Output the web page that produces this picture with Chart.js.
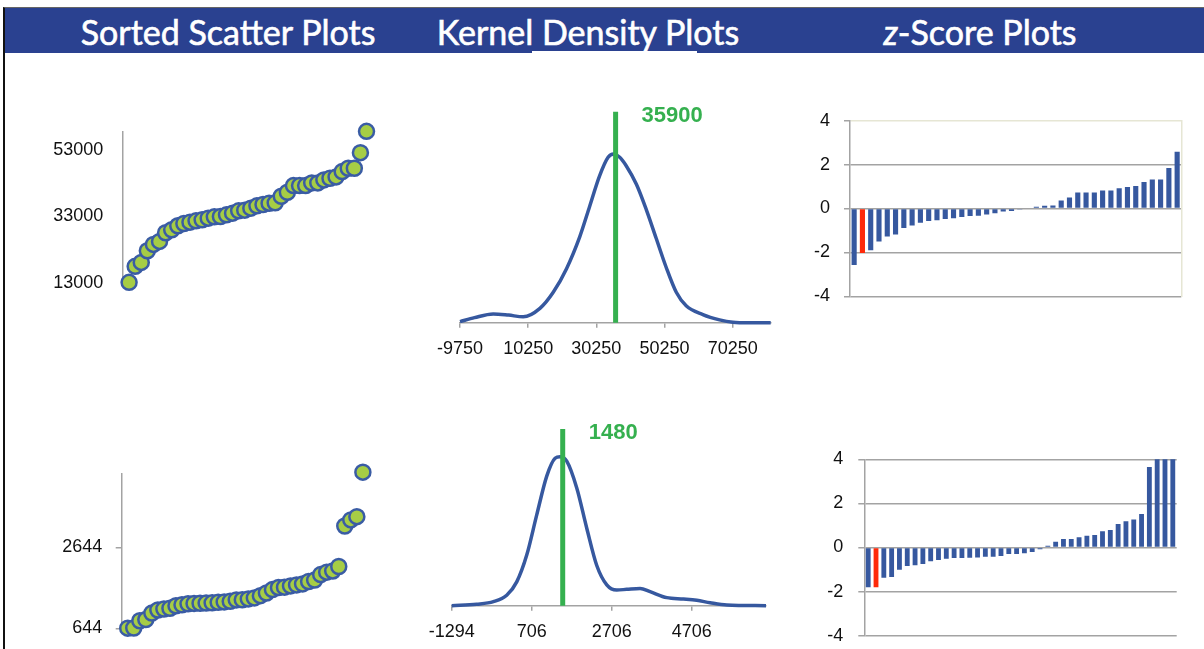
<!DOCTYPE html>
<html>
<head>
<meta charset="utf-8">
<script src="https://cdn.jsdelivr.net/npm/chart.js@4.4.0/dist/chart.umd.min.js"></script>
<style>
  html, body { margin: 0; padding: 0; background: #fff; }
  body { width: 1204px; height: 649px; position: relative; overflow: hidden; font-family: "Liberation Sans", sans-serif; }
  #frame { position: absolute; left: 3px; top: 7px; width: 1201px; height: 642px; border-left: 2px solid #111; border-top: 1px solid #666; }
  #band { position: absolute; left: 5px; top: 8px; width: 1199px; height: 45px; background: #2a4190; }
  #band span { position: absolute; top: 50%; transform: translate(-50%, -50%); color: #fff; font-family: Lato, sans-serif; font-size: 34px; -webkit-text-stroke: 0.6px #fff; white-space: nowrap; }
  #gap { position: absolute; left: 532px; top: 51px; width: 165px; height: 2px; background: #fff; }
  canvas { position: absolute; }
</style>
</head>
<body>
<div id="frame"></div>
<div id="band">
  <span style="left:223px">Sorted Scatter Plots</span>
  <span style="left:583px">Kernel Density Plots</span>
  <span style="left:975px"><i>z</i>-Score Plots</span>
</div>
<div id="gap"></div>

<canvas id="scatterTop" width="380" height="240" style="left:20px;top:90px"></canvas>
<canvas id="scatterBot" width="380" height="240" style="left:20px;top:430px"></canvas>
<canvas id="kdeTop" width="390" height="280" style="left:410px;top:90px"></canvas>
<canvas id="kdeBot" width="400" height="239" style="left:400px;top:410px"></canvas>
<canvas id="zTop" width="414" height="250" style="left:790px;top:80px"></canvas>
<canvas id="zBot" width="404" height="250" style="left:800px;top:420px"></canvas>

<script>
// sorted values
const topSorted = [13200, 18000, 19200, 22700, 24600, 25500, 28100, 29000, 30200, 30900,
  31300, 31700, 32000, 32500, 32900, 33000, 33500, 34000, 34700, 34900,
  35500, 36200, 36600, 37000, 37100, 39100, 40300, 42300, 42300, 42300,
  43100, 43100, 44000, 44500, 44900, 46500, 47500, 47500, 52200, 58600];
const botSorted = [648, 652, 830, 860, 1020, 1095, 1120, 1140, 1200, 1225,
  1248, 1258, 1262, 1266, 1272, 1285, 1295, 1310, 1345, 1350,
  1370, 1395, 1450, 1515, 1600, 1650, 1660, 1690, 1715, 1740,
  1800, 1835, 1970, 2030, 2060, 2170, 3170, 3320, 3400, 4500];
const topScatterTicks = [13000, 33000, 53000];
const botScatterTicks = [644, 2644];

// kernel density curves (x value, relative height)
const kdeTopX = [-9750, -5500, 0, 4500, 8800, 13700, 17600, 21500, 25400, 28300, 31200, 33700, 35300,
  37100, 39000, 42000, 44900, 47800, 50700, 53700, 56600, 61500, 66400, 70300, 75000, 81400];
const kdeTopY = [0.006, 0.03, 0.052, 0.045, 0.035, 0.085, 0.18, 0.32, 0.51, 0.69, 0.87, 0.98, 1.0,
  0.98, 0.93, 0.82, 0.67, 0.5, 0.33, 0.18, 0.1, 0.048, 0.017, 0.003, 0, 0];
const kdeBotX = [-1294, -669, -252, 81, 331, 581, 831, 1081, 1289, 1414, 1581, 1831, 2081,
  2331, 2581, 2831, 3081, 3414, 3664, 4081, 4498, 4831, 5164, 5581, 6560];
const kdeBotY = [0, 0.01, 0.027, 0.07, 0.16, 0.34, 0.61, 0.87, 0.99, 1.0, 0.97, 0.79, 0.52,
  0.27, 0.14, 0.105, 0.11, 0.116, 0.094, 0.054, 0.045, 0.036, 0.02, 0.005, 0];
const kdeTopTicks = [-9750, 10250, 30250, 50250, 70250];
const kdeBotTicks = [-1294, 706, 2706, 4706];
const topMean = 35900;
const botMean = 1480;

// z-scores
const topZ = [-2.57, -2.03, -1.9, -1.5, -1.28, -1.18, -0.89, -0.78, -0.65, -0.57,
  -0.53, -0.48, -0.44, -0.39, -0.34, -0.33, -0.27, -0.22, -0.14, -0.11,
  -0.05, 0.03, 0.08, 0.12, 0.14, 0.36, 0.5, 0.73, 0.73, 0.73,
  0.82, 0.82, 0.92, 0.98, 1.03, 1.21, 1.32, 1.32, 1.85, 2.58];
const botZ = [-1.8, -1.8, -1.37, -1.34, -1.01, -0.84, -0.8, -0.75, -0.62, -0.57,
  -0.51, -0.48, -0.48, -0.47, -0.45, -0.42, -0.42, -0.38, -0.3, -0.3,
  -0.26, -0.2, -0.08, 0.08, 0.26, 0.38, 0.39, 0.47, 0.53, 0.57,
  0.74, 0.79, 1.07, 1.19, 1.27, 1.52, 3.65, 4.1, 4.3, 6.5];
const highlight = 1; // the red bar

const blue = '#36589f';
const green = '#35b04f';
const axisGray = '#a3a3a3';
const tickFont = { family: 'Liberation Sans', size: 18 };
const plain = v => String(v); // no thousands separators

Chart.defaults.animation = false;
Chart.defaults.responsive = false;
Chart.defaults.plugins.legend.display = false;
Chart.defaults.plugins.tooltip.enabled = false;
Chart.defaults.color = '#111';

// green label next to the mean line
const meanLabel = {
  id: 'meanLabel',
  afterDatasetsDraw(chart, args, opts) {
    const { ctx, scales } = chart;
    const x = scales.x.getPixelForValue(opts.value);
    const y = scales.y.getPixelForValue(scales.y.max);
    ctx.save();
    ctx.fillStyle = green;
    ctx.font = 'bold 22px "Liberation Sans"';
    ctx.textBaseline = 'middle';
    ctx.fillText(String(opts.value), x + 26, y + 4);
    ctx.restore();
  }
};

function scatterChart(id, values, ticks, yMin, yMax, pad, tickLen, labelPad) {
  return new Chart(document.getElementById(id), {
    type: 'scatter',
    data: {
      datasets: [{
        data: values.map((v, i) => ({ x: i + 1, y: v })),
        pointRadius: 7.5,
        pointBorderWidth: 2.5,
        pointBackgroundColor: '#a6cd45',
        pointBorderColor: '#3a5ca4',
        clip: false
      }]
    },
    options: {
      layout: { padding: pad },
      scales: {
        x: { display: false, min: 0, max: 41 },
        y: {
          min: yMin, max: yMax,
          afterFit: s => { s.width = 80; },
          afterBuildTicks: s => { s.ticks = ticks.map(v => ({ value: v })); },
          grid: { drawOnChartArea: false, drawTicks: tickLen > 0, tickLength: tickLen, color: axisGray, lineWidth: 1.5 },
          border: { color: axisGray, width: 1.5 },
          ticks: { font: tickFont, padding: labelPad, color: '#111', callback: plain }
        }
      }
    }
  });
}

scatterChart('scatterTop', topSorted, topScatterTicks, 13000, 58500,
  { left: 23, right: 27.4, top: 41.7, bottom: 47 }, 0, 19.7);
scatterChart('scatterBot', botSorted, botScatterTicks, 644, 4471,
  { left: 21.7, right: 31.1, top: 43.3, bottom: 41.7 }, 6, 13.4);

function kdeChart(id, xs, ys, ticks, xMin, xMax, yMax, mean, pad) {
  return new Chart(document.getElementById(id), {
    type: 'scatter',
    data: {
      datasets: [{
        data: [{ x: mean, y: 0 }, { x: mean, y: yMax }],
        showLine: true,
        borderColor: green,
        borderWidth: 5,
        pointRadius: 0,
        clip: false
      }, {
        data: xs.map((x, i) => ({ x: x, y: ys[i] })),
        showLine: true,
        borderColor: blue,
        borderWidth: 3.5,
        pointRadius: 0,
        cubicInterpolationMode: 'monotone',
        clip: false
      }]
    },
    options: {
      layout: { padding: pad },
      plugins: { meanLabel: { value: mean } },
      scales: {
        x: {
          min: xMin, max: xMax,
          afterFit: s => { s.height = 40; },
          afterBuildTicks: s => { s.ticks = ticks.map(v => ({ value: v })); },
          grid: { drawOnChartArea: false, tickLength: 5, color: axisGray, lineWidth: 1.5 },
          border: { color: axisGray, width: 1.5 },
          ticks: { font: tickFont, padding: 11, color: '#111', maxRotation: 0, callback: plain }
        },
        y: { display: false, min: 0, max: yMax }
      }
    },
    plugins: [meanLabel]
  });
}

kdeChart('kdeTop', kdeTopX, kdeTopY, kdeTopTicks, -9750, 81400, 1.25, topMean,
  { left: 50, right: 29.3, top: 21.7, bottom: 7.3 });
kdeChart('kdeBot', kdeBotX, kdeBotY, kdeBotTicks, -1294, 6560, 1.186, botMean,
  { left: 51.7, right: 34, top: 19, bottom: 3.3 });

function zChart(id, values, yWidth, pad, labelPad, frame) {
  return new Chart(document.getElementById(id), {
    type: 'bar',
    data: {
      labels: values.map((v, i) => i + 1),
      datasets: [{
        data: values,
        backgroundColor: values.map((v, i) => i === highlight ? '#ff2a0a' : blue),
        categoryPercentage: 1,
        barPercentage: 0.62
      }]
    },
    options: {
      layout: { padding: pad },
      scales: {
        x: { display: false },
        y: {
          min: -4, max: 4,
          afterFit: s => { s.width = yWidth; },
          ticks: { stepSize: 2, font: tickFont, padding: labelPad, color: '#111' },
          grid: {
            color: c => (frame && c.tick && c.tick.value === 4) ? '#e6e6d4' : axisGray,
            tickColor: axisGray,
            lineWidth: 1.5,
            tickLength: 6
          },
          border: { color: axisGray, width: 1.5 }
        },
        frame: {
          display: frame, position: 'right', min: -4, max: 4,
          afterFit: s => { s.width = 0; },
          ticks: { display: false },
          grid: { display: false },
          border: { color: '#e6e6d4', width: 1.5 }
        }
      }
    }
  });
}

zChart('zTop', topZ, 50, { left: 10, right: 22.7, top: 40.7, bottom: 33.7 }, 14, true);
zChart('zBot', botZ, 54.3, { left: 10, right: 27.3, top: 39.3, bottom: 34.3 }, 15, false);
</script>
</body>
</html>
